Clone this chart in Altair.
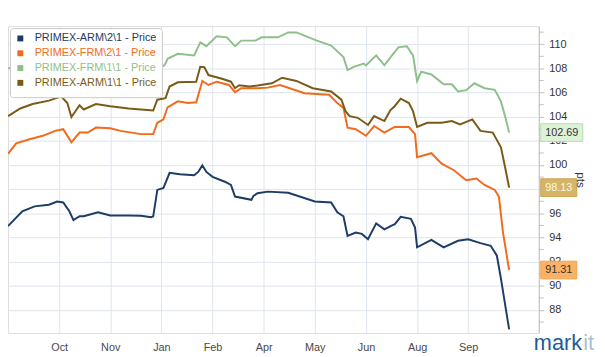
import altair as alt
import pandas as pd

# ---------------- data ----------------
series_names = [
    "PRIMEX-ARM\\2\\1 - Price",
    "PRIMEX-FRM\\2\\1 - Price",
    "PRIMEX-FRM\\1\\1 - Price",
    "PRIMEX-ARM\\1\\1 - Price",
]

# trading-day index / price
arm21_days = [0, 7, 13, 20, 24, 27, 30, 32, 35, 37, 44, 50, 59, 65, 70, 71, 73, 76, 79, 84,
              91, 93, 95, 97, 100, 106, 109, 111, 119, 120, 122, 127, 137, 150, 158, 161, 164,
              166, 170, 173, 176, 180, 184, 188, 189, 192, 197, 199, 200, 207, 213, 220, 225,
              231, 236, 239, 241, 245]
arm21_vals = [94.95, 96.17, 96.58, 96.72, 96.98, 96.90, 96.17, 95.44, 95.76, 95.76, 96.09,
              95.82, 95.82, 95.80, 95.68, 95.75, 97.94, 98.10, 99.35, 99.24, 99.16, 99.43,
              99.97, 99.43, 99.02, 98.62, 98.35, 97.39, 97.12, 97.45, 97.67, 97.80, 97.70,
              96.98, 96.90, 96.09, 95.76, 94.13, 94.41, 94.30, 93.86, 95.17, 94.68, 95.03,
              95.09, 95.71, 95.55, 94.82, 93.19, 93.80, 93.19, 93.73, 93.86, 93.54, 93.32,
              92.50, 90.60, 86.39]

frm21_days = [0, 4, 11, 17, 23, 27, 31, 35, 39, 43, 50, 55, 65, 71, 73, 76, 78, 83, 88, 92,
              94, 95, 98, 102, 108, 111, 114, 122, 127, 133, 145, 157, 161, 164, 166, 170,
              175, 179, 184, 189, 196, 199, 200, 207, 212, 218, 224, 229, 233, 238, 240, 242,
              245]
frm21_vals = [100.93, 101.80, 102.15, 102.42, 102.83, 102.97, 101.88, 102.69, 102.69, 103.10,
              103.05, 102.83, 102.56, 102.56, 103.50, 103.78, 104.78, 105.27, 105.13, 105.20,
              106.36, 106.96, 106.63, 106.90, 106.63, 106.03, 106.36, 106.36, 106.41, 106.63,
              105.95, 105.82, 105.13, 104.73, 103.10, 102.97, 102.42, 103.23, 102.69, 103.15,
              103.15, 102.56, 100.65, 100.98, 100.11, 99.57, 98.75, 98.89, 98.35, 97.94,
              97.39, 94.41, 91.31]

frm11_days = [0, 7, 19, 27, 31, 41, 55, 70, 76, 77, 78, 83, 91, 94, 97, 102, 107, 111, 114,
              121, 124, 132, 137, 141, 151, 158, 164, 166, 169, 174, 175, 180, 184, 189, 191,
              195, 198, 200, 202, 207, 213, 217, 220, 224, 228, 233, 238, 241, 243, 245]
frm11_vals = [108.00, 108.30, 108.60, 108.70, 107.80, 108.40, 108.20, 108.00, 108.20, 108.40,
              108.80, 109.21, 109.08, 110.16, 109.84, 110.65, 110.57, 109.84, 110.30, 110.30,
              110.57, 110.57, 110.98, 110.98, 110.30, 109.89, 108.94, 107.86, 108.13, 108.40,
              108.25, 109.08, 108.26, 109.35, 109.76, 109.84, 109.08, 106.96, 107.72, 107.50,
              106.68, 106.68, 106.09, 106.20, 106.77, 106.36, 106.23, 105.27, 104.05, 102.69]

arm11_days = [0, 6, 12, 20, 26, 29, 31, 35, 37, 43, 50, 59, 65, 71, 73, 77, 79, 83, 92, 94,
              96, 98, 105, 109, 111, 113, 118, 122, 129, 134, 141, 149, 158, 163, 165, 167,
              171, 176, 179, 184, 187, 189, 192, 196, 198, 200, 205, 212, 217, 221, 227, 231,
              237, 241, 243, 245]
arm11_vals = [104.05, 104.68, 105.05, 105.33, 105.68, 105.13, 103.97, 104.95, 104.60, 105.05,
              104.87, 104.68, 104.60, 104.51, 105.41, 105.54, 106.50, 106.85, 106.90, 108.13,
              108.10, 107.45, 107.12, 106.90, 106.36, 106.60, 106.50, 106.58, 106.77, 107.23,
              106.96, 106.36, 106.09, 105.41, 104.46, 104.05, 103.91, 103.32, 104.05, 103.64,
              104.55, 104.87, 105.49, 105.13, 104.46, 103.15, 103.50, 103.50, 103.64, 103.37,
              103.78, 102.83, 102.69, 101.47, 99.84, 98.13]

tick_days = [25, 50, 75, 100, 125, 150, 175, 200, 225]
tick_labels = ["Oct", "Nov", "Jan", "Feb", "Apr", "May", "Jun", "Aug", "Sep"]
y_major = [88, 90, 92, 94, 96, 98, 100, 102, 104, 106, 108, 110]
y_minor = [87, 89, 91, 93, 95, 97, 99, 101, 103, 105, 107, 109, 111]
y_title = "pts"

# ---------------- styles / layout ----------------
line_colors = ["#1d3c66", "#f26a1b", "#8fbf8b", "#7a5b16"]
end_series = series_names[1:]                       # series that carry an end label
end_fill = ["#fcb264", "#def2d7", "#d6b566"]
end_stroke = ["#f3a04c", "#b6dcae", "#c7a350"]
end_textc = ["#333333", "#333333", "#fbf6e6"]

W, H = 538, 311
X_DOMAIN = [0, 259.5]
Y_DOMAIN = [86.1, 111.5]
FONT = "Liberation Sans"

# ---------------- tables ----------------
all_days = [arm21_days, frm21_days, frm11_days, arm11_days]
all_vals = [arm21_vals, frm21_vals, frm11_vals, arm11_vals]
rows = []
for name, ds, vs in zip(series_names, all_days, all_vals):
    for d, v in zip(ds, vs):
        rows.append({"series": name, "day": d, "price": v})
df = pd.DataFrame(rows)

px_per_day = W / (X_DOMAIN[1] - X_DOMAIN[0])
end_rows = []
for name, fc, sc, tc in zip(end_series, end_fill, end_stroke, end_textc):
    i = series_names.index(name)
    v = all_vals[i][-1]
    lbl = f"{v:.2f}"
    w_px = 6.1 * len(lbl) + 6
    x0 = X_DOMAIN[1] + 2 / px_per_day
    end_rows.append({
        "series": name, "price": v, "label": lbl,
        "bx": x0, "bx2": x0 + w_px / px_per_day, "bxm": x0 + w_px / 2 / px_per_day,
        "top": v + 0.73, "bot": v - 0.73,
        "fill": fc, "stroke": sc, "tcolor": tc,
    })
df_end = pd.DataFrame(end_rows)

x_label_expr = "".join(f"datum.value == {d} ? '{l}' : " for d, l in zip(tick_days, tick_labels)) + "''"

x_scale = alt.Scale(domain=X_DOMAIN, nice=False, zero=False)
y_scale = alt.Scale(domain=Y_DOMAIN, nice=False, zero=False)

x_axis = alt.Axis(values=tick_days, labelExpr=x_label_expr, title=None,
                  ticks=False, domain=False, grid=True, gridColor="#dde5ee",
                  labelPadding=9, labelFontSize=11, labelColor="#4a4a4a",
                  labelFont=FONT)
y_axis = alt.Axis(orient="right", values=y_major, title=None,
                  labelOverlap=False, labelFlush=False, labelBound=False,
                  labelFontSize=11, labelColor="#333333", labelFont=FONT,
                  tickSize=5, tickColor="#c0c0c0", labelPadding=5,
                  domainColor="#c0c0c0", grid=True, gridColor="#dde5ee")

lines = alt.Chart(df).mark_line(strokeWidth=2).encode(
    x=alt.X("day:Q", scale=x_scale, axis=x_axis),
    y=alt.Y("price:Q", scale=y_scale, axis=y_axis),
    color=alt.Color("series:N", scale=alt.Scale(domain=series_names, range=line_colors),
                    legend=alt.Legend(title=None, orient="none", legendX=2, legendY=2,
                                      direction="vertical", fillColor="white",
                                      strokeColor="#c9c9c9", padding=5, cornerRadius=3,
                                      symbolType="square", symbolSize=4,
                                      symbolStrokeWidth=4, labelFontSize=11,
                                      labelFont=FONT, labelOffset=9, rowPadding=-4,
                                      labelColor={"expr": "scale('color', datum.value)"},
                                      labelLimit=300, zindex=1)),
)

minor_ticks = alt.Chart(pd.DataFrame({"v": y_minor})).mark_rule(
    color="#c0c0c0", strokeWidth=1
).encode(y=alt.Y("v:Q", scale=y_scale, axis=y_axis), x=alt.value(W), x2=alt.value(W + 5))

boxes = alt.Chart(df_end).mark_rect(strokeWidth=1).encode(
    x=alt.X("bx:Q", scale=x_scale, axis=x_axis),
    x2="bx2:Q",
    y=alt.Y("top:Q", scale=y_scale, axis=y_axis),
    y2="bot:Q",
    fill=alt.Fill("fill:N", scale=None),
    stroke=alt.Stroke("stroke:N", scale=None),
)

texts = alt.Chart(df_end).mark_text(fontSize=11, font=FONT, baseline="middle",
                                    align="center").encode(
    x=alt.X("bxm:Q", scale=x_scale, axis=x_axis),
    y=alt.Y("price:Q", scale=y_scale, axis=y_axis),
    text="label:N",
    fill=alt.Fill("tcolor:N", scale=None),
)

title_txt = alt.Chart(pd.DataFrame({"t": [y_title]})).mark_text(
    fontSize=12, font=FONT, angle=90, align="center", baseline="middle", color="#333333"
).encode(text="t:N", x=alt.value(W + 43), y=alt.value(156))

logo1 = alt.Chart(pd.DataFrame({"logo": ["mark"]})).mark_text(
    fontSize=22, font=FONT, align="left", baseline="alphabetic", color="#1f5c96"
).encode(text="logo:N", x=alt.value(533), y=alt.value(328))
logo2 = alt.Chart(pd.DataFrame({"logo": ["it"]})).mark_text(
    fontSize=22, font=FONT, align="left", baseline="alphabetic", color="#a9bfd2"
).encode(text="logo:N", x=alt.value(583), y=alt.value(328))

chart = alt.layer(lines, minor_ticks, boxes, texts, title_txt, logo1, logo2).properties(
    width=W, height=H,
    autosize=alt.AutoSizeParams(type="none"),
    padding={"left": 0, "top": 16, "right": 59, "bottom": 22},
    background="white",
).configure_view(
    fill="#f2f6fb", stroke="#c4c4c4", strokeWidth=1
).configure_axis(labelOverlap=False).configure(font=FONT)

chart.save("out.html", embed_options={"renderer": "svg", "actions": False})
